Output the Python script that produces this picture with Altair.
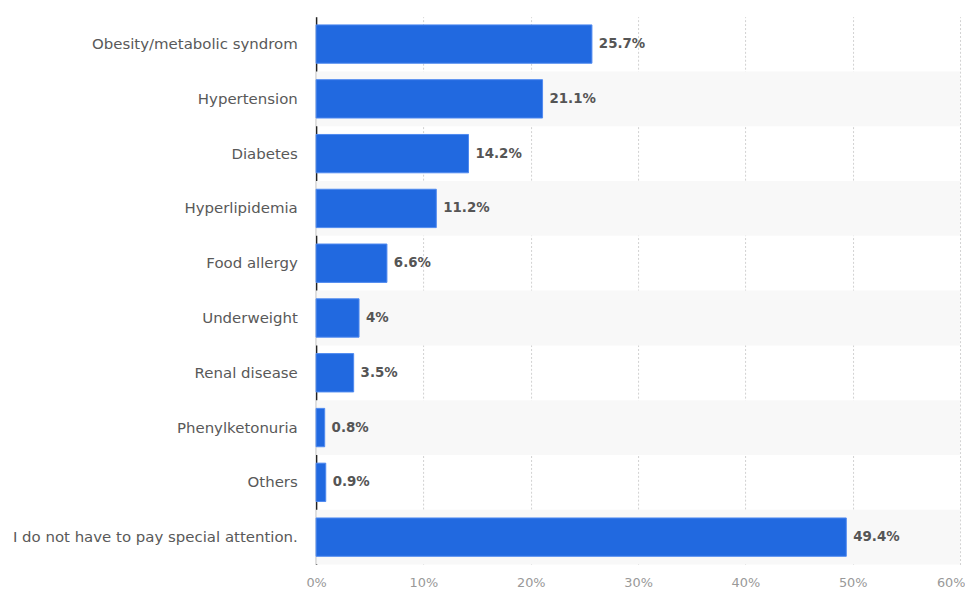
import altair as alt
import pandas as pd

categories = ["Obesity/metabolic syndrom", "Hypertension", "Diabetes", "Hyperlipidemia",
              "Food allergy", "Underweight", "Renal disease", "Phenylketonuria", "Others",
              "I do not have to pay special attention."]
values = [25.7, 21.1, 14.2, 11.2, 6.6, 4.0, 3.5, 0.8, 0.9, 49.4]
labels = ["25.7%", "21.1%", "14.2%", "11.2%", "6.6%", "4%", "3.5%", "0.8%", "0.9%", "49.4%"]
x_ticks = [0, 10, 20, 30, 40, 50, 60]

df = pd.DataFrame({"cat": categories, "val": values, "lab": labels,
                   "stripe": [i % 2 == 1 for i in range(len(categories))]})

FONT = "DejaVu Sans"
PI = 0.3
yscale = alt.Scale(domain=categories, paddingInner=PI, paddingOuter=0.15)
xscale = alt.Scale(domain=[0, 60], nice=False)

ydef = alt.Y("cat:N", scale=yscale, sort=categories,
             axis=alt.Axis(title=None, labelFont=FONT, labelFontSize=15.1, labelColor="#595959",
                           labelPadding=19, ticks=False, domain=True, domainColor="#222222",
                           domainWidth=1.5, labelLimit=400))

stripes = alt.Chart(df).transform_filter("datum.stripe").mark_bar(
    color="#f8f8f8", height={"band": 1 / (1 - PI)}
).encode(
    y=ydef,
    x=alt.value(0),
    x2=alt.value("width"),
)

bars = alt.Chart(df).mark_bar(color="#2169e0", stroke="#4f8af0", strokeWidth=1).encode(
    y=alt.Y("cat:N", scale=yscale, sort=categories),
    x=alt.X("val:Q", scale=xscale,
            axis=alt.Axis(title=None, values=x_ticks, labelExpr="datum.value + '%'",
                          labelFont=FONT, labelFontSize=13, labelColor="#999999",
                          labelPadding=12, ticks=False, domain=False, labelFlush=False,
                          labelAlign=alt.condition("datum.value == 60", alt.value("right"), alt.value("center")),
                          labelOffset=alt.condition("datum.value == 60", alt.value(5), alt.value(0)),
                          grid=True, gridDash=[2, 2], gridColor="#d0d0d0", gridWidth=1)),
)

text = alt.Chart(df).mark_text(align="left", baseline="middle", dx=7, font=FONT,
                               fontSize=13.5, fontWeight="bold", color="#555555").encode(
    y=alt.Y("cat:N", scale=yscale, sort=categories),
    x=alt.X("val:Q", scale=xscale),
    text="lab:N",
)

chart = alt.layer(stripes, bars, text).properties(
    width=650, height=553,
    padding={"left": 4, "top": 6, "right": 0, "bottom": 2},
).configure_view(stroke=None).configure_axisY(grid=False)

chart.save("out.html", embed_options={"renderer": "svg", "actions": False})
